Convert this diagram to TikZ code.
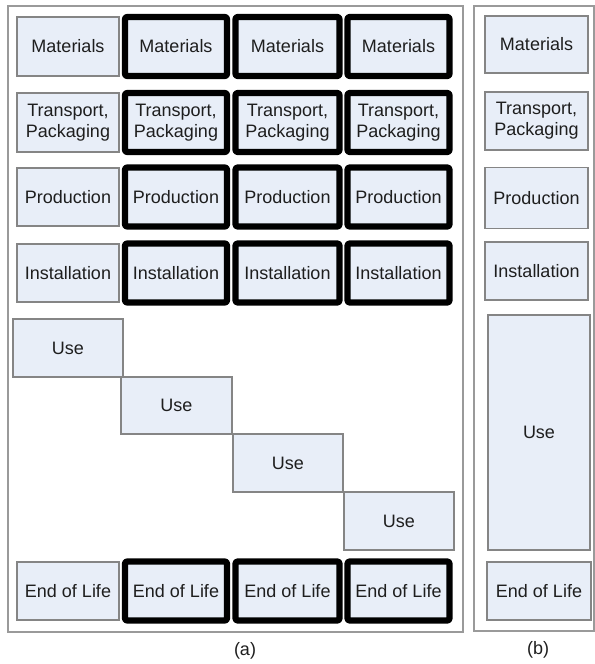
\documentclass[tikz,border=0pt]{standalone}
\usepackage{fontspec}
\setmainfont{Liberation Sans}
\definecolor{boxfill}{HTML}{E8EEF8}
\definecolor{boxline}{HTML}{858585}
\definecolor{frameline}{HTML}{9A9A9A}
\definecolor{txt}{HTML}{1E1E1E}
\begin{document}
\begin{tikzpicture}[x=0.75pt,y=-0.75pt,
  wh/.style 2 args={minimum width=#1*0.75pt, minimum height=#2*0.75pt},
  base/.style={rectangle, inner sep=0pt, align=center, text=txt,
    font=\fontsize{13.5pt}{15.5pt}\selectfont, fill=boxfill},
  plain/.style={base, draw=boxline, line width=1pt},
  thick/.style={base, draw=black, line width=4.6pt, rounded corners=1.5pt, line join=round},
  frame/.style={draw=frameline, line width=0.9pt},
  lab/.style={inner sep=0pt, text=txt, font=\fontsize{13.5pt}{15.5pt}\selectfont}]
\useasboundingbox (0,0) rectangle (595,664);
\fill[white] (0,0) rectangle (595,664);
% frames
\draw[frame] (8,6) rectangle (463,632);
\draw[frame] (474,6) rectangle (594,631);
\coordinate (fa) at (235.5,319);
\coordinate (fb) at (534,318.5);
% panel (a) column 1
\node[plain, wh={102}{59}] (m1) at (68,46.5) {Materials};
\node[plain, wh={102}{59}] (t1) at (68,122.5) {Transport,\\Packaging};
\node[plain, wh={102}{58}] (p1) at (68,197) {Production};
\node[plain, wh={102}{58}] (i1) at (68,273) {Installation};
\node[plain, wh={102}{58}] (e1) at (68,591) {End of Life};
% thick columns
\node[thick, wh={102}{59}] (m2) at (176,46.5) {Materials};
\node[thick, wh={104}{59}] (m3) at (287.5,46.5) {Materials};
\node[thick, wh={102}{59}] (m4) at (398.5,46.5) {Materials};
\node[thick, wh={102}{59}] (t2) at (176,122.5) {Transport,\\Packaging};
\node[thick, wh={104}{59}] (t3) at (287.5,122.5) {Transport,\\Packaging};
\node[thick, wh={102}{59}] (t4) at (398.5,122.5) {Transport,\\Packaging};
\node[thick, wh={102}{59}] (p2) at (176,197) {Production};
\node[thick, wh={104}{59}] (p3) at (287.5,197) {Production};
\node[thick, wh={102}{59}] (p4) at (398.5,197) {Production};
\node[thick, wh={102}{59}] (i2) at (176,273) {Installation};
\node[thick, wh={104}{59}] (i3) at (287.5,273) {Installation};
\node[thick, wh={102}{59}] (i4) at (398.5,273) {Installation};
\node[thick, wh={102}{59}] (e2) at (176,591) {End of Life};
\node[thick, wh={104}{59}] (e3) at (287.5,591) {End of Life};
\node[thick, wh={102}{59}] (e4) at (398.5,591) {End of Life};
% use boxes
\node[plain, wh={110}{58}] (u1) at (68,348) {Use};
\node[plain, wh={111}{57}] (u2) at (176.5,405.5) {Use};
\node[plain, wh={110}{58}] (u3) at (288,463) {Use};
\node[plain, wh={110}{58}] (u4) at (399,521) {Use};
% panel (b)
\node[plain, wh={103}{57}] (bm) at (536.5,44.5) {Materials};
\node[plain, wh={103}{58}] (bt) at (536.5,121) {Transport,\\Packaging};
\node[plain, wh={103}{61}] (bp) at (536.5,198) {Production};
\node[plain, wh={103}{58}] (bi) at (536.5,271) {Installation};
\node[plain, wh={102}{235}] (bu) at (539,432.5) {Use};
\node[plain, wh={104}{58}] (be) at (539,591) {End of Life};
% labels
\node[lab] (la) at (245,651) {(a)};
\node[lab] (lb) at (538,650) {(b)};
\end{tikzpicture}
\end{document}
